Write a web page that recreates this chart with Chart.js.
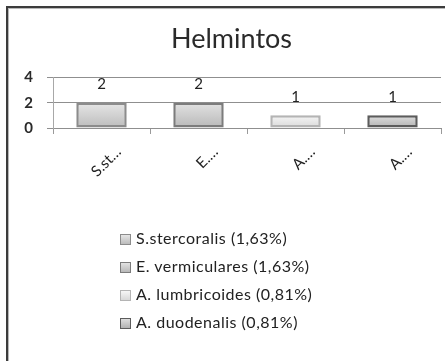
<!DOCTYPE html>
<html>
<head>
<meta charset="utf-8">
<script src="https://cdn.jsdelivr.net/npm/chart.js@4"></script>
<style>
    body { margin: 0; background: #fff; }
    #wrap { position: relative; width: 445px; height: 361px; overflow: hidden; background: #fff; }
    #frame {
        position: absolute; left: 6px; top: 6px; width: 470px; height: 380px;
        border-left: 2px solid #3c3c3c; border-top: 2px solid #3c3c3c;
        box-shadow: inset 1px 1px 0 #b8b8b8;
    }
    #chart { position: absolute; left: 0; top: 0; }
    #legend { position: absolute; left: 120px; top: 224px; font-family: Lato, sans-serif; font-size: 16px; letter-spacing: 0.5px; color: #222; }
    .item { height: 28px; line-height: 28px; white-space: nowrap; }
    .swatch { display: inline-block; width: 9px; height: 9px; border: 1px solid #7a7a7a; margin-right: 5px; vertical-align: -1px; }
</style>
</head>
<body>
<div id="wrap">
    <div id="frame"></div>
    <canvas id="chart" width="445" height="361"></canvas>
    <div id="legend"></div>
</div>
<script>
// Helminth counts per species
const species = ['S.stercoralis', 'E. vermiculares', 'A. lumbricoides', 'A. duodenalis'];
const counts = [2, 2, 1, 1];
const percents = ['1,63%', '1,63%', '0,81%', '0,81%'];
const tickLabels = ['S.st…', 'E.…', 'A.…', 'A.…'];
const yTicks = [0, 2, 4];

// Bar styling (grey gradients like the office palette)
const fillTop = ['#e6e6e6', '#e2e2e2', '#f6f6f6', '#dedede'];
const fillBottom = ['#bcbcbc', '#b8b8b8', '#d8d8d8', '#b2b2b2'];
const edgeColors = ['#8c8c8c', '#7c7c7c', '#b4b4b4', '#5c5c5c'];

function barFill(context) {
    const chart = context.chart;
    const i = context.dataIndex;
    if (!chart.chartArea) return fillBottom[i];
    const y = chart.scales.y;
    const top = y.getPixelForValue(counts[i]);
    const bottom = y.getPixelForValue(0);
    const g = chart.ctx.createLinearGradient(0, top, 0, bottom);
    g.addColorStop(0, fillTop[i]);
    g.addColorStop(1, fillBottom[i]);
    return g;
}

// Value labels drawn above each bar
const valueLabels = {
    id: 'valueLabels',
    afterDatasetsDraw(chart) {
        const ctx = chart.ctx;
        const meta = chart.getDatasetMeta(0);
        ctx.save();
        ctx.font = '15px Lato, sans-serif';
        ctx.fillStyle = '#222';
        ctx.textAlign = 'center';
        ctx.textBaseline = 'bottom';
        meta.data.forEach((bar, i) => {
            ctx.fillText(String(counts[i]), bar.x, bar.y - 11);
        });
        ctx.restore();
    }
};

const ctx = document.getElementById('chart').getContext('2d');

new Chart(ctx, {
    type: 'bar',
    data: {
        labels: tickLabels,
        datasets: [{
            data: counts,
            backgroundColor: barFill,
            borderColor: edgeColors,
            borderWidth: 2.5,
            borderSkipped: false,
            categoryPercentage: 1,
            barPercentage: 0.52
        }]
    },
    options: {
        responsive: false,
        animation: false,
        layout: { padding: { left: 22, right: 4, top: 0, bottom: 0 } },
        plugins: {
            legend: { display: false },
            tooltip: { enabled: false },
            title: {
                display: true,
                text: 'Helmintos',
                color: '#2a2a2a',
                font: { family: 'Lato, sans-serif', size: 27, weight: 'normal', lineHeight: 1.2 },
                padding: { top: 23, bottom: 22 }
            }
        },
        scales: {
            x: {
                grid: { offset: true, drawOnChartArea: false, tickLength: 6, color: '#9a9a9a' },
                border: { color: '#8f8f8f' },
                ticks: {
                    autoSkip: false,
                    minRotation: 45,
                    maxRotation: 45,
                    labelOffset: 17,
                    padding: 9,
                    color: '#222',
                    font: { family: 'Lato, sans-serif', size: 15 }
                },
                afterFit(scale) { scale.height = 233; }
            },
            y: {
                min: 0,
                max: 4,
                afterBuildTicks(scale) { scale.ticks = yTicks.map(v => ({ value: v })); },
                grid: { color: '#8f8f8f', tickLength: 6 },
                border: { color: '#a8a8a8' },
                ticks: {
                    padding: 14,
                    color: '#2a2a2a',
                    font: { family: 'Lato, sans-serif', size: 15, weight: 'bold' }
                },
                afterFit(scale) { scale.width = 31; }
            }
        }
    },
    plugins: [valueLabels]
});

// Legend rows, one per species
const legend = document.getElementById('legend');
species.forEach((name, i) => {
    const row = document.createElement('div');
    row.className = 'item';
    const sw = document.createElement('span');
    sw.className = 'swatch';
    sw.style.background = 'linear-gradient(' + fillTop[i] + ', ' + fillBottom[i] + ')';
    sw.style.borderColor = edgeColors[i];
    row.appendChild(sw);
    row.appendChild(document.createTextNode(name + ' (' + percents[i] + ')'));
    legend.appendChild(row);
});
</script>
</body>
</html>
